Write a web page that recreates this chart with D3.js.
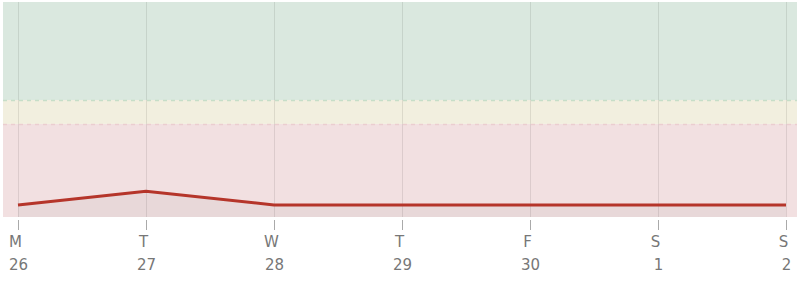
<!DOCTYPE html>
<html>
<head>
    <title>week chart</title>
    <script src="https://d3js.org/d3.v7.min.js"></script>
    <style>
        body { margin: 0; background: #fff; }
        text { font-family: "DejaVu Sans", sans-serif; }
    </style>
</head>
<body>
    <svg id="chart" width="797" height="282"></svg>

    <script>
    var days = ["M", "T", "W", "T", "F", "S", "S"];
    var dates = ["26", "27", "28", "29", "30", "1", "2"];
    var values = [5.6, 12, 5.6, 5.6, 5.6, 5.6, 5.6];
    // band limits and colours, bottom to top
    var bandLimits = [0, 43.3, 54.4, 100];
    var bandColors = ["#f2e0e1", "#f2efdf", "#dae8df"];
    var lineColors = ["#ebcdd0", "#c6dec8"];

    var plotLeft = 3, plotRight = 797, plotTop = 2, plotBottom = 217;

    var svg = d3.select('#chart');

    var xScale = d3.scalePoint()
        .domain(d3.range(days.length))
        .range([18, 786]);

    var yScale = d3.scaleLinear()
        .domain([0, 100])
        .range([plotBottom, plotTop]);

    // background bands
    svg.selectAll('rect.band')
        .data(bandColors)
        .enter()
        .append('rect')
        .attr('class', 'band')
        .attr('x', plotLeft)
        .attr('width', plotRight - plotLeft)
        .attr('y', function(d, i) { return yScale(bandLimits[i + 1]); })
        .attr('height', function(d, i) { return yScale(bandLimits[i]) - yScale(bandLimits[i + 1]); })
        .attr('fill', function(d) { return d; });

    // dashed boundaries
    svg.selectAll('line.limit')
        .data([bandLimits[1], bandLimits[2]])
        .enter()
        .append('line')
        .attr('class', 'limit')
        .attr('x1', plotLeft)
        .attr('x2', plotRight)
        .attr('y1', function(d) { return Math.round(yScale(d)) + 0.5; })
        .attr('y2', function(d) { return Math.round(yScale(d)) + 0.5; })
        .attr('stroke', function(d, i) { return lineColors[i]; })
        .attr('stroke-width', 1.5)
        .attr('stroke-dasharray', '4,4');

    // area under line
    var area = d3.area()
        .x(function(d, i) { return xScale(i); })
        .y0(plotBottom)
        .y1(function(d) { return yScale(d); });

    svg.append('path')
        .datum(values)
        .attr('d', area)
        .attr('fill', 'rgba(120,110,110,0.07)');

    // vertical grid
    svg.selectAll('line.grid')
        .data(d3.range(days.length))
        .enter()
        .append('line')
        .attr('class', 'grid')
        .attr('x1', function(d) { return Math.round(xScale(d)) + 0.5; })
        .attr('x2', function(d) { return Math.round(xScale(d)) + 0.5; })
        .attr('y1', plotTop)
        .attr('y2', plotBottom)
        .attr('stroke', '#000')
        .attr('stroke-opacity', 0.09);

    var line = d3.line()
        .x(function(d, i) { return xScale(i); })
        .y(function(d) { return yScale(d); });

    svg.append('path')
        .datum(values)
        .attr('d', line)
        .attr('fill', 'none')
        .attr('stroke', '#b5352a')
        .attr('stroke-width', 3);

    // x axis ticks + two-line labels
    var ticks = svg.selectAll('g.tick')
        .data(d3.range(days.length))
        .enter()
        .append('g')
        .attr('class', 'tick')
        .attr('transform', function(d) { return 'translate(' + (Math.round(xScale(d)) + 0.5) + ',0)'; });

    ticks.append('line')
        .attr('y1', 220)
        .attr('y2', 230)
        .attr('stroke', '#aaa')
        .attr('stroke-width', 1);

    ticks.append('text')
        .attr('x', -3)
        .attr('y', 247)
        .attr('text-anchor', 'middle')
        .attr('fill', '#777')
        .style('font-size', '15px')
        .text(function(d) { return days[d]; });

    ticks.append('text')
        .attr('y', 270)
        .attr('text-anchor', 'middle')
        .attr('fill', '#777')
        .style('font-size', '15px')
        .text(function(d) { return dates[d]; });
    </script>
</body>
</html>
